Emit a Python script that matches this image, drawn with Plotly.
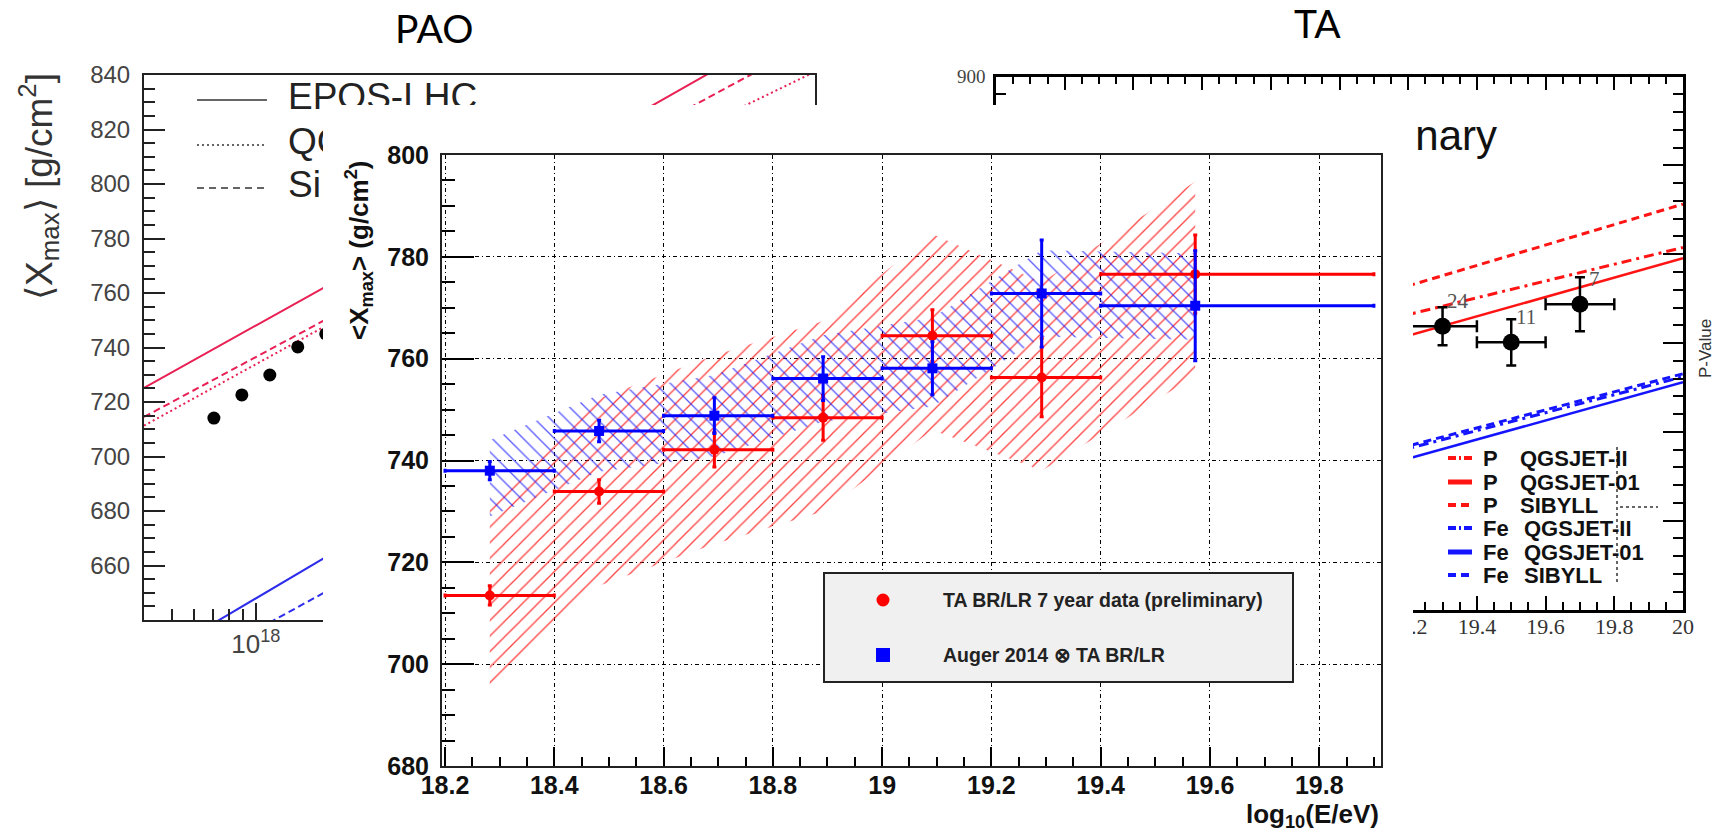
import math
import plotly.graph_objects as go

W, H = 1721, 833

# ---------------- central panel: TA BR/LR vs Auger 2014 (x) TA BR/LR ----------------
bin_lo = [18.2, 18.4, 18.6, 18.8, 19.0, 19.2, 19.4]
bin_hi = [18.4, 18.6, 18.8, 19.0, 19.2, 19.4, 19.9]
lgE_mean = [18.282, 18.482, 18.693, 18.892, 19.092, 19.292, 19.573]
ta_xmax = [713.5, 733.9, 742.1, 748.4, 764.5, 756.3, 776.6]
ta_stat = [1.9, 2.3, 3.4, 4.4, 5.1, 7.7, 7.7]
ta_sys_up = [18.5, 18.3, 18.5, 19.0, 20.0, 18.7, 18.2]
ta_sys_dn = [18.6, 18.5, 18.5, 18.4, 18.5, 18.3, 20.0]
aug_xmax = [738.0, 745.8, 748.8, 756.1, 758.1, 772.8, 770.4]
aug_stat = [1.8, 2.1, 3.5, 4.3, 5.2, 10.5, 10.8]
aug_sys_up = [6.0, 7.1, 8.0, 8.5, 10.0, 8.5, 10.3]
aug_sys_dn = [9.0, 8.0, 8.0, 8.5, 7.5, 8.5, 6.7]
main_xticks = [18.2, 18.4, 18.6, 18.8, 19.0, 19.2, 19.4, 19.6, 19.8]
main_xlabels = ["18.2", "18.4", "18.6", "18.8", "19", "19.2", "19.4", "19.6", "19.8"]
main_yticks = [680, 700, 720, 740, 760, 780, 800]

# ---------------- left panel: PAO ----------------
pao_lgE = [17.85, 17.95, 18.05, 18.15, 18.25]
pao_xmax = [714.1, 722.6, 729.9, 740.2, 745.0]
pao_model_lgE = [17.6, 18.3, 19.2, 20.0]
pao_p_epos = [725.2, 765.2, 816.1, 862.7]
pao_p_sibyll = [714.5, 753.0, 808.6, 852.8]
pao_p_qgsjet = [711.3, 750.7, 801.5, 841.2]
pao_fe_lgE = [17.6, 20.0]
pao_fe_epos = [623.7, 769.1]
pao_fe_sibyll = [613.7, 749.1]
pao_yticks = [660, 680, 700, 720, 740, 760, 780, 800, 820, 840]
pao_legend_names = ["EPOS-LHC", "QGSJetII-04", "Sibyll2.1"]

# ---------------- right panel: TA ----------------
ta_model_lgE = [18.0, 20.0]
ta_p_qgsjet2 = [709.4, 803.8]
ta_p_qgsjet01 = [688.8, 797.7]
ta_p_sibyll = [713.2, 828.2]
ta_fe_qgsjet2 = [630.0, 731.0]
ta_fe_qgsjet01 = [620.5, 727.9]
ta_fe_sibyll = [631.1, 732.7]
ta_pts_lgE = [19.3, 19.5, 19.7]
ta_pts_xmax = [759.5, 750.4, 771.8]
ta_pts_err = [10.7, 13.0, 15.2]
ta_pts_xerr = [0.1, 0.1, 0.1]
ta_pts_n = ["24", "11", "7"]
ta_xticks = [18.0, 18.2, 18.4, 18.6, 18.8, 19.0, 19.2, 19.4, 19.6, 19.8, 20.0]
ta_xlabels = ["", "", "", "", "", "", "19.2", "19.4", "19.6", "19.8", "20"]
ta_yticks = [600, 650, 700, 750, 800, 850, 900]
ta_ylabels = ["", "", "", "", "", "", "900"]
ta_legend = [("P", "QGSJET-II"), ("P", "QGSJET-01"), ("P", "SIBYLL"),
             ("Fe", "QGSJET-II"), ("Fe", "QGSJET-01"), ("Fe", "SIBYLL")]

# ---------------- geometry helpers (pixels -> paper / axis units) ----------------
def px(x):
    return x / W


def py(y):
    return 1 - y / H


PAO_BOX = (144, 815, 75, 620)
PAO_RX, PAO_RY = (17.6, 20.0), (640, 840)
TA_BOX = (996, 1683, 76.6, 609.5)
TA_RX, TA_RY = (18.0, 20.0), (600, 900)
COVER_BOX = (323, 1413, 105, 833)
MAIN_BOX = (442, 1381, 155, 766)
MAIN_RX, MAIN_RY = (18.1945, 19.913), (680, 800)


def to_axis(box, rx, ry, X, Y):
    x0, x1, y0, y1 = box
    return (rx[0] + (X - x0) / (x1 - x0) * (rx[1] - rx[0]),
            ry[0] + (y1 - Y) / (y1 - y0) * (ry[1] - ry[0]))


def dom(box):
    x0, x1, y0, y1 = box
    return [x0 / W, x1 / W], [1 - y1 / H, 1 - y0 / H]


SANS = "Liberation Sans, Arial, sans-serif"
SERIF = "Liberation Serif, Times New Roman, serif"
TITLE = "Lato, Open Sans, sans-serif"

fig = go.Figure()

# ======== PAO panel (x / y) ========
red_pao = "rgb(232,32,84)"
blue_pao = "rgb(45,45,235)"
fig.add_trace(go.Scatter(x=pao_model_lgE, y=pao_p_epos, mode="lines",
                         line=dict(color=red_pao, width=2), xaxis="x", yaxis="y"))
fig.add_trace(go.Scatter(x=pao_model_lgE, y=pao_p_qgsjet, mode="lines",
                         line=dict(color=red_pao, width=2, dash="2px,3px"), xaxis="x", yaxis="y"))
fig.add_trace(go.Scatter(x=pao_model_lgE, y=pao_p_sibyll, mode="lines",
                         line=dict(color=red_pao, width=2, dash="7px,4px"), xaxis="x", yaxis="y"))
fig.add_trace(go.Scatter(x=pao_fe_lgE, y=pao_fe_epos, mode="lines",
                         line=dict(color=blue_pao, width=2), xaxis="x", yaxis="y"))
fig.add_trace(go.Scatter(x=pao_fe_lgE, y=pao_fe_sibyll, mode="lines",
                         line=dict(color=blue_pao, width=2, dash="7px,4px"), xaxis="x", yaxis="y"))
fig.add_trace(go.Scatter(x=pao_lgE, y=pao_xmax, mode="markers",
                         marker=dict(color="black", size=13), xaxis="x", yaxis="y"))
leg_pts = [to_axis(PAO_BOX, PAO_RX, PAO_RY, 288, yy) for yy in (100, 145, 188)]
fig.add_trace(go.Scatter(x=[p[0] for p in leg_pts], y=[p[1] for p in leg_pts], mode="text",
                         text=pao_legend_names, textposition="middle right",
                         textfont=dict(family=SANS, size=37, color="#222"),
                         xaxis="x", yaxis="y"))

# ======== TA panel (x2 / y2) ========
RED, BLUE = "rgb(255,20,20)", "rgb(20,20,255)"
ta_lines = [
    (ta_p_sibyll, RED, "8px,5px", 3),
    (ta_p_qgsjet2, RED, "10px,5px,3px,5px", 3),
    (ta_p_qgsjet01, RED, "solid", 2.5),
    (ta_fe_sibyll, BLUE, "8px,5px", 3),
    (ta_fe_qgsjet2, BLUE, "10px,5px,3px,5px", 3),
    (ta_fe_qgsjet01, BLUE, "solid", 2.5),
]
for yy, col, dash, wd in ta_lines:
    fig.add_trace(go.Scatter(x=ta_model_lgE, y=yy, mode="lines",
                             line=dict(color=col, width=wd, dash=dash), xaxis="x2", yaxis="y2"))
fig.add_trace(go.Scatter(x=ta_pts_lgE, y=ta_pts_xmax, mode="markers",
                         marker=dict(color="black", size=17),
                         error_y=dict(type="data", array=ta_pts_err, color="black", thickness=2.5, width=5),
                         error_x=dict(type="data", array=ta_pts_xerr, color="black", thickness=2.5, width=6),
                         xaxis="x2", yaxis="y2"))
pre = to_axis(TA_BOX, TA_RX, TA_RY, 1497, 140)
fig.add_trace(go.Scatter(x=[pre[0]], y=[pre[1]], mode="text", text=["Preliminary"],
                         textposition="middle left",
                         textfont=dict(family=SANS, size=42, color="#111"),
                         xaxis="x2", yaxis="y2"))

# ======== cover panel (x3 / y3): white background of the central figure ========
fig.add_trace(go.Scatter(x=[None], y=[None], mode="markers", xaxis="x3", yaxis="y3"))

# ======== central panel (x4 / y4) ========
red_up = [v + s for v, s in zip(ta_xmax, ta_sys_up)]
red_dn = [v - s for v, s in zip(ta_xmax, ta_sys_dn)]
aug_up = [v + s for v, s in zip(aug_xmax, aug_sys_up)]
aug_dn = [v - s for v, s in zip(aug_xmax, aug_sys_dn)]
fig.add_trace(go.Scatter(x=lgE_mean + lgE_mean[::-1], y=red_up + red_dn[::-1],
                         mode="lines", fill="toself", line=dict(width=0, color="rgba(0,0,0,0)"),
                         fillcolor="rgba(0,0,0,0)",
                         fillpattern=dict(shape="/", fgcolor="rgba(255,30,30,0.85)",
                                          bgcolor="rgba(0,0,0,0)", size=11, solidity=0.12,
                                          fillmode="replace"),
                         xaxis="x4", yaxis="y4"))
fig.add_trace(go.Scatter(x=lgE_mean + lgE_mean[::-1], y=aug_up + aug_dn[::-1],
                         mode="lines", fill="toself", line=dict(width=0, color="rgba(0,0,0,0)"),
                         fillcolor="rgba(0,0,0,0)",
                         fillpattern=dict(shape="\\", fgcolor="rgba(30,30,255,0.75)",
                                          bgcolor="rgba(0,0,0,0)", size=11, solidity=0.12,
                                          fillmode="replace"),
                         xaxis="x4", yaxis="y4"))
ex_plus = [h - m for h, m in zip(bin_hi, lgE_mean)]
ex_minus = [m - l for m, l in zip(lgE_mean, bin_lo)]
fig.add_trace(go.Scatter(x=lgE_mean, y=ta_xmax, mode="markers",
                         marker=dict(color="red", size=10, symbol="circle"),
                         error_y=dict(type="data", array=ta_stat, color="red", thickness=3, width=2),
                         error_x=dict(type="data", symmetric=False, array=ex_plus, arrayminus=ex_minus,
                                      color="red", thickness=3, width=2),
                         xaxis="x4", yaxis="y4"))
fig.add_trace(go.Scatter(x=lgE_mean, y=aug_xmax, mode="markers",
                         marker=dict(color="blue", size=10, symbol="square"),
                         error_y=dict(type="data", array=aug_stat, color="blue", thickness=3, width=2),
                         error_x=dict(type="data", symmetric=False, array=ex_plus, arrayminus=ex_minus,
                                      color="blue", thickness=3, width=2),
                         xaxis="x4", yaxis="y4"))

# ---------------- axes ----------------
pdx, pdy = dom(PAO_BOX)
tdx, tdy = dom(TA_BOX)
cdx, cdy = dom(COVER_BOX)
mdx, mdy = dom(MAIN_BOX)

pao_minor = [math.log10(k * 1e17) for k in range(4, 10)] + [math.log10(k * 1e18) for k in range(2, 10)] + \
            [math.log10(k * 1e19) for k in range(2, 10)]

grid_dash = "4px,3px,1px,3px"
layout = dict(
    template="none",
    width=W, height=H, margin=dict(l=0, r=0, t=0, b=0, pad=0, autoexpand=False), autosize=False,
    paper_bgcolor="white", plot_bgcolor="white", showlegend=False,
    font=dict(family=SANS, color="#222"),
    xaxis=dict(domain=pdx, anchor="y", range=list(PAO_RX), showline=True, mirror=True,
               linecolor="#222", linewidth=2, ticks="inside", ticklen=17, tickwidth=1.5,
               tickcolor="#222", tickmode="array", tickvals=[18], ticktext=["10<sup>18</sup>"],
               tickfont=dict(family=SANS, size=26, color="#444"), showgrid=False, zeroline=False,
               automargin=False,
               minor=dict(tickmode="array", tickvals=pao_minor, ticks="inside", ticklen=11,
                          tickwidth=1.5, tickcolor="#222", showgrid=False)),
    yaxis=dict(domain=pdy, anchor="x", range=list(PAO_RY), showline=True, mirror=True,
               linecolor="#222", linewidth=2, ticks="inside", ticklen=21, tickwidth=1.5,
               tickcolor="#222", tickmode="array", tickvals=pao_yticks,
               tickfont=dict(family=SANS, size=24, color="#444"), ticklabelstandoff=7,
               showgrid=False, zeroline=False, automargin=False,
               minor=dict(dtick=5, tick0=0, ticks="inside", ticklen=11, tickwidth=1.5,
                          tickcolor="#222", showgrid=False)),
    xaxis2=dict(domain=tdx, anchor="y2", range=list(TA_RX), showline=True, mirror="ticks",
                linecolor="black", linewidth=2.5, ticks="inside", ticklen=14, tickwidth=2,
                tickcolor="black", tickmode="array", tickvals=ta_xticks, ticktext=ta_xlabels,
                tickfont=dict(family=SERIF, size=22, color="#333"), ticklabelstandoff=-5,
                showgrid=False, zeroline=False, automargin=False,
                minor=dict(dtick=0.05, tick0=18, ticks="inside", ticklen=8, tickwidth=2,
                           tickcolor="black", showgrid=False)),
    yaxis2=dict(domain=tdy, anchor="x2", range=list(TA_RY), showline=True, mirror="ticks",
                linecolor="black", linewidth=2.5, ticks="inside", ticklen=20, tickwidth=2,
                tickcolor="black", tickmode="array", tickvals=ta_yticks, ticktext=ta_ylabels,
                tickfont=dict(family=SERIF, size=19, color="#444"), ticklabelstandoff=4,
                showgrid=False, zeroline=False, automargin=False,
                minor=dict(dtick=10, tick0=600, ticks="inside", ticklen=10, tickwidth=2,
                           tickcolor="black", showgrid=False)),
    xaxis3=dict(domain=cdx, anchor="y3", range=[0, 1], visible=False, automargin=False),
    yaxis3=dict(domain=cdy, anchor="x3", range=[0, 1], visible=False, automargin=False),
    xaxis4=dict(domain=mdx, anchor="y4", range=list(MAIN_RX), showline=True, mirror=True,
                linecolor="#222", linewidth=2, ticks="inside", ticklen=19, tickwidth=1.5,
                tickcolor="black", tickmode="array", tickvals=main_xticks, ticktext=main_xlabels,
                tickfont=dict(family=SANS, size=25, color="#111", weight="bold"),
                ticklabelstandoff=-4, automargin=False,
                showgrid=True, gridcolor="black", gridwidth=1, griddash=grid_dash, zeroline=False,
                minor=dict(dtick=0.05, tick0=18.2, ticks="inside", ticklen=9, tickwidth=1.5,
                           tickcolor="black", showgrid=False)),
    yaxis4=dict(domain=mdy, anchor="x4", range=list(MAIN_RY), showline=True, mirror=True,
                linecolor="#222", linewidth=2, ticks="inside", ticklen=32, tickwidth=1.5,
                tickcolor="black", tickmode="array", tickvals=main_yticks,
                tickfont=dict(family=SANS, size=25, color="#111", weight="bold"),
                ticklabelstandoff=6, automargin=False,
                showgrid=True, gridcolor="black", gridwidth=1, griddash=grid_dash, zeroline=False,
                minor=dict(dtick=5, tick0=0, ticks="inside", ticklen=13, tickwidth=1.5,
                           tickcolor="black", showgrid=False)),
)
fig.update_layout(**layout)

shapes = []
annotations = []


def line_shape(x0, y0, x1, y1, color, width, dash="solid"):
    shapes.append(dict(type="line", xref="paper", yref="paper", x0=px(x0), y0=py(y0),
                       x1=px(x1), y1=py(y1), line=dict(color=color, width=width, dash=dash),
                       layer="above"))


def text(x, y, s, size, color="#111", family=SANS, xanchor="left", yanchor="middle",
         angle=0, bold=False):
    annotations.append(dict(x=px(x), y=py(y), xref="paper", yref="paper", text=s,
                            showarrow=False, xanchor=xanchor, yanchor=yanchor, textangle=angle,
                            font=dict(family=family, size=size, color=color,
                                      weight="bold" if bold else "normal")))


# panel titles
text(434, 28, "PAO", 39, "#000", TITLE, xanchor="center")
text(1317, 23, "TA", 39, "#000", TITLE, xanchor="center")

# PAO legend samples and y title
line_shape(197, 100, 267, 100, "#333", 1.5)
line_shape(197, 145, 267, 145, "#333", 1.5, "2px,3px")
line_shape(197, 188, 267, 188, "#333", 1.5, "7px,5px")
text(38, 187, "⟨X<sub>max</sub>⟩ [g/cm<sup>2</sup>]", 37, "#333", SANS, xanchor="center", angle=-90)

# TA legend
leg_rows = [458, 482, 505, 528, 552, 575]
leg_styles = [(RED, "8px,3px,2px,3px", 4), (RED, "solid", 5), (RED, "8px,5px", 4),
              (BLUE, "8px,3px,2px,3px", 4), (BLUE, "solid", 5), (BLUE, "8px,5px", 4)]
for (part, model), yy, (col, dash, wd) in zip(ta_legend, leg_rows, leg_styles):
    line_shape(1448, yy, 1472, yy, col, wd, dash)
    text(1481, yy, part, 22, "#111", SANS, bold=True)
    text(1518 if part == "P" else 1522, yy, model, 22, "#111", SANS, bold=True)
line_shape(1617, 447, 1617, 583, "#666", 2, "dot")
line_shape(1620, 507, 1658, 507, "#666", 2, "dot")
text(1705, 349, "P-Value", 17, "#333", SANS, xanchor="center", angle=-90)
for xv, yv, n in zip(ta_pts_lgE, ta_pts_xmax, ta_pts_n):
    annotations.append(dict(x=xv, y=yv, xref="x2", yref="y2", text=n, showarrow=False,
                            xshift=15, yshift=25, font=dict(family=SERIF, size=21, color="#555")))

# central panel axis titles
text(359, 251, "&lt;X<sub>max</sub>&gt; (g/cm<sup>2</sup>)", 26, "#111", SANS,
     xanchor="center", angle=-90, bold=True)
text(1381, 797, "log<sub>10</sub>(E/eV)", 26, "#111", SANS, xanchor="right", yanchor="top", bold=True)

# central legend
shapes.append(dict(type="rect", xref="paper", yref="paper", x0=px(824), y0=py(682), x1=px(1293),
                   y1=py(573), fillcolor="#f0f0f0", line=dict(color="#222", width=2), layer="above"))
shapes.append(dict(type="circle", xref="paper", yref="paper", x0=px(876.5), y0=py(606.5),
                   x1=px(889.5), y1=py(593.5), fillcolor="red", line=dict(width=0), layer="above"))
shapes.append(dict(type="rect", xref="paper", yref="paper", x0=px(876), y0=py(662),
                   x1=px(890), y1=py(648), fillcolor="blue", line=dict(width=0), layer="above"))
text(941, 600, "TA BR/LR 7 year data (preliminary)", 19.5, "#222", SANS, bold=True)
text(941, 655, "Auger 2014 ⊗ TA BR/LR", 19.5, "#222", SANS, bold=True)

fig.update_layout(shapes=shapes, annotations=annotations)

fig.write_html("out.html", config={"displayModeBar": False},
               post_script="document.body.style.margin='0';document.body.style.overflow='hidden';")
